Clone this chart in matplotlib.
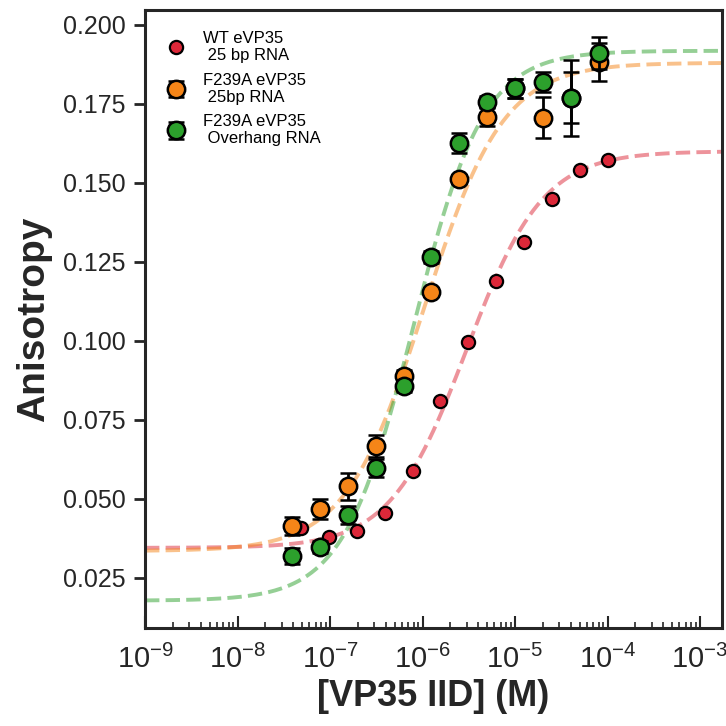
import numpy as np
import matplotlib
matplotlib.use('Agg')
import matplotlib.pyplot as plt

plt.rcParams['font.family'] = ['Liberation Sans', 'DejaVu Sans']
plt.rcParams['mathtext.fontset'] = 'custom'
plt.rcParams['mathtext.rm'] = 'Liberation Sans'

# Concentrations (M), two-fold dilution series
conc_wt = [4.9e-8, 9.8e-8, 1.95e-7, 3.9e-7, 7.8e-7, 1.5625e-6, 3.125e-6, 6.25e-6,
           1.25e-5, 2.5e-5, 5e-5, 1e-4]
conc_f = [3.9e-8, 7.8e-8, 1.5625e-7, 3.125e-7, 6.25e-7, 1.25e-6, 2.5e-6, 5e-6,
          1e-5, 2e-5, 4e-5, 8e-5]

# Anisotropy values
wt_25bp = [0.0408, 0.0380, 0.0399, 0.0455, 0.0589, 0.0810, 0.0997, 0.1190,
           0.1313, 0.1449, 0.1541, 0.1573]
f239a_25bp = [0.0414, 0.0468, 0.0540, 0.0668, 0.0889, 0.1155, 0.1513, 0.1709,
              0.1800, 0.1706, 0.1770, 0.1883]
f239a_25bp_err = [0.0028, 0.0032, 0.0043, 0.0035, 0.0020, 0.0012, 0.0012, 0.0030,
                  0.0030, 0.0065, 0.0080, 0.0060]
f239a_oh = [0.0320, 0.0348, 0.0449, 0.0598, 0.0857, 0.1266, 0.1627, 0.1756,
            0.1800, 0.1820, 0.1769, 0.1911]
f239a_oh_err = [0.0025, 0.0020, 0.0028, 0.0028, 0.0020, 0.0020, 0.0032, 0.0020,
                0.0030, 0.0032, 0.0120, 0.0050]

# Hill fit parameters: bottom, top, K (M), n
fit_wt = [0.0345, 0.1600, 3.0e-6, 1.05]
fit_25bp = [0.0335, 0.1880, 1.05e-6, 1.02]
fit_oh = [0.0178, 0.1918, 8.0e-7, 1.15]

labels = ['WT eVP35\n 25 bp RNA', 'F239A eVP35\n 25bp RNA', 'F239A eVP35\n Overhang RNA']
c_red = '#dc2839'
c_orange = '#f58518'
c_green = '#2ca02c'


def hill(x, p):
    b, t, k, n = p
    return b + (t - b) * x**n / (k**n + x**n)


fig = plt.figure(figsize=(7.26, 7.26), dpi=100)
ax = fig.add_axes([145/726, 98/726, 577/726, 618/726])

xs = np.logspace(-9, -2.75, 400)
ax.plot(xs, hill(xs, fit_wt), '--', color=c_red, alpha=0.5, lw=2.8)
ax.plot(xs, hill(xs, fit_25bp), '--', color=c_orange, alpha=0.5, lw=2.8)
ax.plot(xs, hill(xs, fit_oh), '--', color=c_green, alpha=0.5, lw=2.8)

ax.plot(conc_wt, wt_25bp, 'o', color=c_red, mec='black', mew=1.6, ms=9.5,
        label=labels[0], zorder=3)
ax.errorbar(conc_f, f239a_25bp, yerr=f239a_25bp_err, fmt='o', color=c_orange,
            mec='black', mew=1.8, ms=12.5, ecolor='black', elinewidth=2,
            capsize=6, capthick=2, label=labels[1], zorder=4)
ax.errorbar(conc_f, f239a_oh, yerr=f239a_oh_err, fmt='o', color=c_green,
            mec='black', mew=1.8, ms=12.5, ecolor='black', elinewidth=2,
            capsize=6, capthick=2, label=labels[2], zorder=5)

ax.set_xscale('log')
ax.set_xlim(1e-9, 10**(-9 + 577/92.5))
ax.set_ylim(0.00915, 0.2047)
ax.set_yticks([0.025, 0.05, 0.075, 0.1, 0.125, 0.15, 0.175, 0.2])
ax.set_yticklabels(['0.025', '0.050', '0.075', '0.100', '0.125', '0.150', '0.175', '0.200'])
ax.set_xticks([1e-9, 1e-8, 1e-7, 1e-6, 1e-5, 1e-4, 1e-3])

for s in ax.spines.values():
    s.set_linewidth(2.2)
    s.set_color('#262626')
ax.tick_params(axis='y', direction='out', length=8, width=2, labelsize=18,
               colors='#262626', pad=6)
ax.tick_params(axis='x', which='major', direction='in', length=9, width=1.5,
               labelsize=21, colors='#262626', pad=12)
ax.tick_params(axis='x', which='minor', direction='in', length=4.5, width=1.2,
               colors='#262626')

ax.set_xlabel('[VP35 IID] (M)', fontsize=26, fontweight='bold', color='#262626', labelpad=4)
ax.set_ylabel('Anisotropy', fontsize=28, fontweight='bold', color='#262626', labelpad=8)

ax.legend(loc='upper left', frameon=False, fontsize=12, handletextpad=0.6,
          borderaxespad=0.3, labelspacing=0.55, bbox_to_anchor=(0.005, 0.985))

fig.savefig('out.png', dpi=100)
